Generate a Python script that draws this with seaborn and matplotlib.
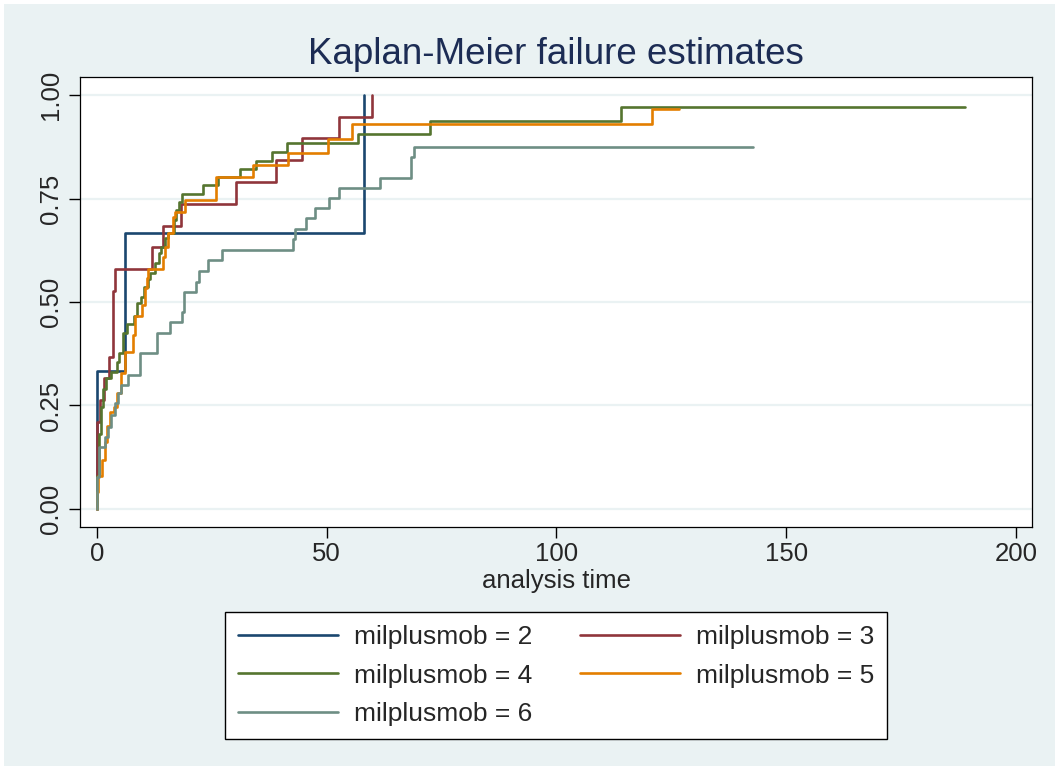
import numpy as np
import pandas as pd
import matplotlib
matplotlib.use("Agg")
import matplotlib.pyplot as plt
from matplotlib.lines import Line2D
from matplotlib.patches import Rectangle
import seaborn as sns

# step points (time, failure)
groups = ["milplusmob = 2", "milplusmob = 3", "milplusmob = 4",
          "milplusmob = 5", "milplusmob = 6"]
colors = ["#1a476f", "#90353b", "#55752f", "#e37e00", "#6e8e84"]

t2 = [0, 0, 6.0, 58.2]
f2 = [0, 0.333, 0.667, 1.0]

t3 = [0, 0, 0.6, 1.6, 2.6, 3.4, 4.0, 12.0, 14.4, 18.2, 30.2, 39.0, 44.6, 52.7, 59.8]
f3 = [0, 0.21, 0.263, 0.316, 0.368, 0.526, 0.579, 0.632, 0.684, 0.737, 0.789,
      0.842, 0.895, 0.947, 1.0]

t4 = [0, 0, 0.5, 0.9, 1.4, 1.9, 3.1, 4.35, 4.7, 5.6, 6.5, 8.0, 8.7, 9.6, 10.2,
      11.1, 11.6, 12.7, 13.4, 14.0, 14.7, 15.4, 16.8, 17.3, 17.9, 18.4, 23.0,
      26.3, 31.1, 34.6, 38.0, 41.3, 56.7, 72.4, 114.0, 189.0]
f4 = [0, 0.08, 0.18, 0.247, 0.29, 0.316, 0.332, 0.356, 0.376, 0.424, 0.447,
      0.465, 0.497, 0.513, 0.537, 0.555, 0.57, 0.593, 0.618, 0.634, 0.654,
      0.666, 0.698, 0.722, 0.742, 0.762, 0.783, 0.803, 0.821, 0.841, 0.863,
      0.885, 0.907, 0.938, 0.970, 0.970]

t5 = [0, 0, 0.3, 1.0, 1.7, 2.2, 2.9, 3.8, 4.4, 5.3, 6.2, 7.8, 8.2, 9.8, 10.4,
      10.9, 11.2, 14.4, 14.9, 15.5, 16.6, 17.0, 19.2, 26.0, 33.9, 41.6, 50.3,
      55.4, 120.7, 126.6]
f5 = [0, 0.04, 0.08, 0.118, 0.163, 0.2, 0.235, 0.247, 0.279, 0.328, 0.38, 0.42,
      0.465, 0.493, 0.533, 0.557, 0.579, 0.609, 0.634, 0.667, 0.706, 0.718,
      0.746, 0.803, 0.831, 0.859, 0.894, 0.930, 0.965, 0.965]

t6 = [0, 0, 0.5, 1.8, 2.4, 3.1, 4.0, 4.6, 5.3, 6.7, 9.4, 13.1, 15.8, 18.6, 19.0,
      21.5, 22.2, 24.1, 27.1, 42.7, 43.0, 45.5, 47.4, 50.6, 52.7, 61.7, 68.3,
      69.0, 142.8]
f6 = [0, 0.078, 0.149, 0.175, 0.199, 0.227, 0.255, 0.279, 0.30, 0.324, 0.376,
      0.425, 0.451, 0.477, 0.525, 0.549, 0.576, 0.601, 0.626, 0.651, 0.676,
      0.702, 0.727, 0.752, 0.776, 0.80, 0.851, 0.875, 0.875]

xticks = [0, 50, 100, 150, 200]
yticks = [0.0, 0.25, 0.5, 0.75, 1.0]
ylabels = ["0.00", "0.25", "0.50", "0.75", "1.00"]

series = [(t2, f2), (t3, f3), (t4, f4), (t5, f5), (t6, f6)]
df = pd.concat([pd.DataFrame({"t": t, "F": f, "group": g})
                for (t, f), g in zip(series, groups)], ignore_index=True)

sns.set_style("white")
plt.rcParams["font.family"] = ["Liberation Sans", "DejaVu Sans"]

W, H = 1059, 770
fig = plt.figure(figsize=(W / 100, H / 100), dpi=100)
fig.patch.set_facecolor("white")
fig.patches.append(Rectangle((4 / W, 4 / H), 1 - 8 / W, 1 - 8 / H,
                             transform=fig.transFigure, facecolor="#eaf2f3",
                             edgecolor="none", zorder=-10))

ax = fig.add_axes([80 / W, 1 - 527 / H, (1032 - 80) / W, (527 - 77) / H])
ax.set_facecolor("white")

sns.lineplot(data=df, x="t", y="F", hue="group", hue_order=groups,
             palette=colors, estimator=None, sort=False,
             drawstyle="steps-post", lw=1.9, legend=False, ax=ax)

ax.set_xlim(-3.7, 203.5)
ax.set_ylim(-0.0435, 1.0435)
ax.set_xticks(xticks)
ax.set_xticklabels([str(x) for x in xticks])
ax.set_yticks(yticks)
ax.set_yticklabels(ylabels, rotation=90, va="center")
ax.yaxis.grid(True, color="#eaf2f3", lw=1.6)
ax.set_axisbelow(True)
ax.tick_params(axis="both", direction="out", length=8, width=1,
               labelsize=18.5, color="black", pad=4)
ax.tick_params(axis="x", bottom=True, pad=3)
ax.tick_params(axis="y", left=True)
for s in ax.spines.values():
    s.set_color("black")
    s.set_linewidth(0.9)

ax.set_xlabel("analysis time", fontsize=18.5, labelpad=2)
ax.set_ylabel("")

fig.text(556 / W, 1 - 54 / H, "Kaplan-Meier failure estimates",
         ha="center", va="center", fontsize=26.5, color="#1c2c54")

# legend filled column-wise, so reorder to get rows 2|3, 4|5, 6
order = [0, 2, 4, 1, 3]
handles = [Line2D([], [], color=colors[i], lw=1.9) for i in order]
leg = fig.legend(handles, [groups[i] for i in order], ncol=2,
                 loc="upper center", bbox_to_anchor=(556 / W, 1 - 612 / H),
                 borderaxespad=0, frameon=True, fancybox=False,
                 edgecolor="black", facecolor="white", framealpha=1,
                 fontsize=19, handlelength=3.8, handletextpad=0.6,
                 columnspacing=1.8, labelspacing=0.55, borderpad=0.5)
leg.get_frame().set_linewidth(1.0)

fig.savefig("out.png", dpi=100)
